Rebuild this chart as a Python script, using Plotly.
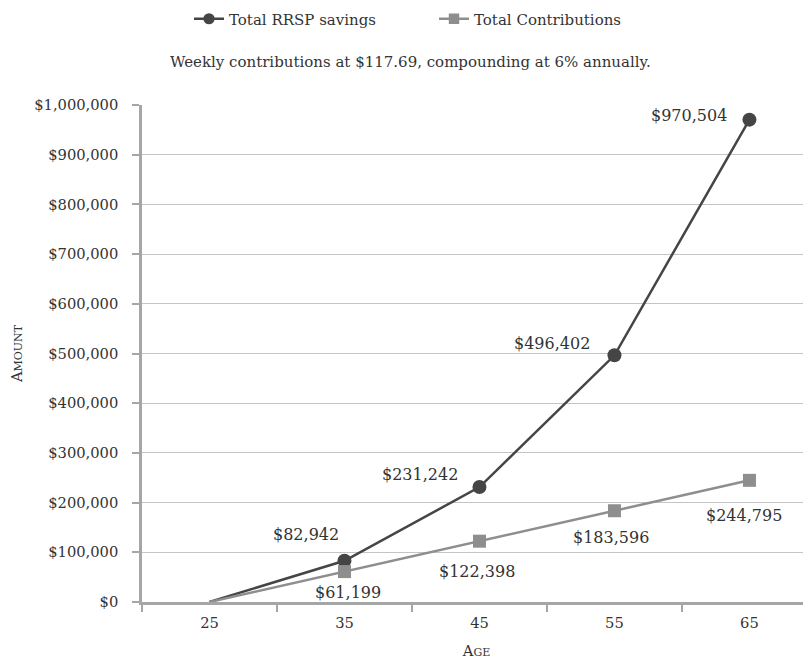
import plotly.graph_objects as go

ages = ["25", "35", "45", "55", "65"]
rrsp_savings = [0, 82942, 231242, 496402, 970504]
contributions = [0, 61199, 122398, 183596, 244795]
y_ticks = [0, 100000, 200000, 300000, 400000, 500000, 600000, 700000, 800000, 900000, 1000000]
y_tick_labels = ["${:,}".format(v) for v in y_ticks]

DARK = "#454545"
MID = "#8e8e8e"
TEXT = "#333333"
FONT = "DejaVu Serif"

# page body has an 8px offset, so the figure is sized to the visible area
W, H = 803, 651
ML, MR, MT, MB = 134, 0, 97, 57
PW, PH = W - ML - MR, H - MT - MB

fig = go.Figure()
fig.add_trace(go.Scatter(
    x=ages, y=rrsp_savings, mode="lines+markers", name="Total RRSP savings",
    line=dict(color=DARK, width=2.5),
    marker=dict(symbol="circle", size=[0, 14, 14, 14, 14], color=DARK,
                opacity=1, line=dict(width=0)),
))
fig.add_trace(go.Scatter(
    x=ages, y=contributions, mode="lines+markers", name="Total Contributions",
    line=dict(color=MID, width=2.5),
    marker=dict(symbol="square", size=[0, 13, 13, 13, 13], color=MID,
                opacity=1, line=dict(width=0)),
))

# data labels (skip the starting point); x given as category index
rrsp_shift = [(-3, 26), (-19, 13), (-22, 12), (-20, 4)]
contrib_shift = [(4, -21), (-2, -30), (-3, -27), (-5, -35)]
for i in range(1, len(ages)):
    dx, dy = rrsp_shift[i - 1]
    fig.add_annotation(x=i, y=rrsp_savings[i], text="${:,}".format(rrsp_savings[i]),
                       showarrow=False, xanchor="right", yanchor="middle",
                       xshift=dx, yshift=dy, font=dict(family=FONT, size=16, color=TEXT))
    dx, dy = contrib_shift[i - 1]
    fig.add_annotation(x=i, y=contributions[i], text="${:,}".format(contributions[i]),
                       showarrow=False, xanchor="center", yanchor="middle",
                       xshift=dx, yshift=dy, font=dict(family=FONT, size=16, color=TEXT))

fig.add_annotation(text="Weekly contributions at $117.69, compounding at 6% annually.",
                   xref="paper", yref="paper", x=(402 - ML) / PW, y=(H - 54 - MB) / PH,
                   xanchor="center", yanchor="middle", showarrow=False,
                   font=dict(family=FONT, size=15, color=TEXT))

fig.update_layout(
    width=W, height=H,
    margin=dict(l=ML, r=MR, t=MT, b=MB),
    paper_bgcolor="white", plot_bgcolor="white",
    font=dict(family=FONT, size=14, color=TEXT),
    showlegend=True,
    legend=dict(orientation="h", xref="container", yref="container",
                x=181 / W, y=1 - 11 / H, xanchor="left", yanchor="middle",
                font=dict(family=FONT, size=15, color=TEXT),
                entrywidth=200, entrywidthmode="pixels", itemsizing="trace"),
    xaxis=dict(
        type="category", range=[-0.5, 4.456], tickson="boundaries",
        ticks="outside", ticklen=7, tickcolor="#a6a6a6", tickwidth=2,
        showline=True, linecolor="#a6a6a6", linewidth=2.5,
        showgrid=False, zeroline=False, automargin=False,
        tickfont=dict(family=FONT, size=14.7, color=TEXT), ticklabelstandoff=6,
        title=dict(text="A<span style='font-size:11px'>GE</span>",
                   font=dict(family=FONT, size=14.7, color=TEXT), standoff=23),
    ),
    yaxis=dict(
        range=[0, 1000000], tickvals=y_ticks, ticktext=y_tick_labels,
        ticks="outside", ticklen=7, tickcolor="#a6a6a6", tickwidth=2,
        showline=True, linecolor="#a6a6a6", linewidth=2.5,
        showgrid=True, gridcolor="#c4c4c4", gridwidth=1.2, zeroline=False,
        automargin=False,
        tickfont=dict(family=FONT, size=14.7, color=TEXT), ticklabelstandoff=11,
        title=dict(text="A<span style='font-size:11px'>MOUNT</span>",
                   font=dict(family=FONT, size=14.7, color=TEXT), standoff=28),
    ),
)

fig.write_html("out.html")
